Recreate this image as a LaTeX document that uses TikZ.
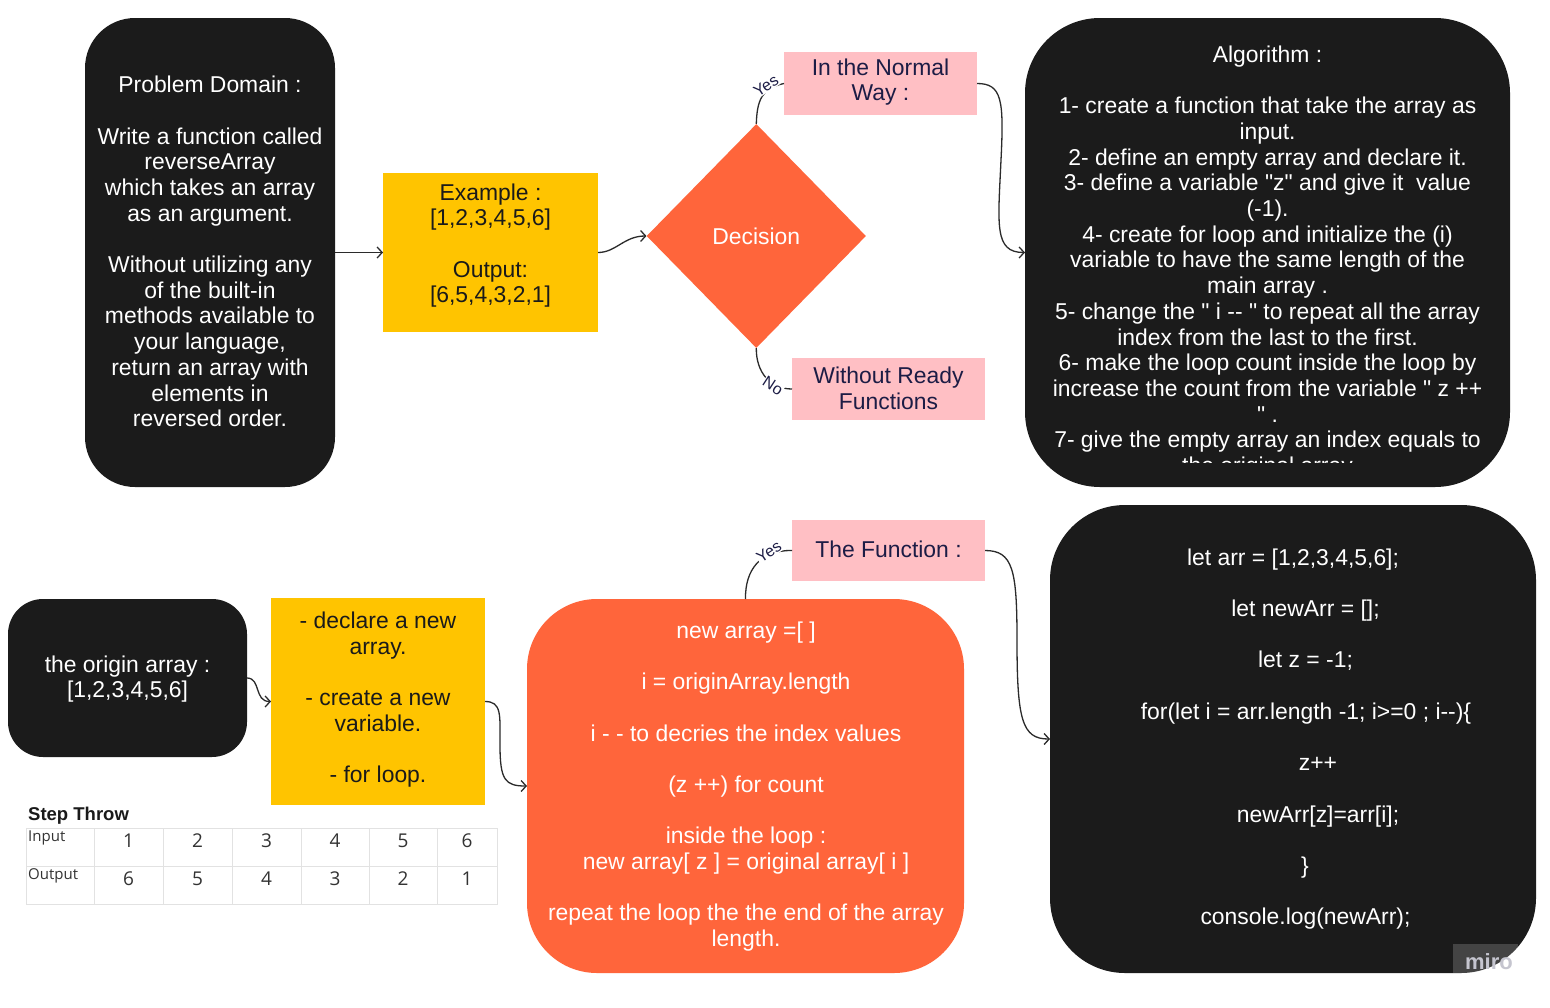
\documentclass[tikz,border=0pt]{standalone}
\usepackage{fontspec}
\setmainfont{Liberation Sans}[Ligatures=TeXOff]
\newfontfamily\tabfont{Open Sans}
\usetikzlibrary{shapes.geometric,arrows.meta}
\definecolor{boxblack}{HTML}{1B1B1B}
\definecolor{yellowc}{HTML}{FFC400}
\definecolor{orangec}{HTML}{FF653B}
\definecolor{pinkc}{HTML}{FFBFC4}
\definecolor{navyc}{HTML}{1C1C45}
\definecolor{darkt}{HTML}{1A1A1A}
\definecolor{linec}{HTML}{2B2B2B}
\definecolor{gridc}{HTML}{E2E2E2}
\definecolor{numc}{HTML}{333333}
\definecolor{miroc}{HTML}{C5C5CF}
\newcommand\msz{\fontsize{22.9pt}{25.7pt}\selectfont}
\begin{document}
\begin{tikzpicture}[x=1pt,y=-1pt,
  box/.style={draw=none,inner sep=0pt,outer sep=0pt},
  blackbox/.style={box,fill=boxblack},
  wtext/.style={text=white,align=center,font=\msz,inner sep=0pt},
  dtext/.style={text=darkt,align=center,font=\msz,inner sep=0pt},
  ntext/.style={text=navyc,align=center,font=\msz,inner sep=0pt},
  conn/.style={draw=linec,line width=1.3pt,-{Straight Barb[length=5pt,width=11pt]}},
  plainconn/.style={draw=linec,line width=1.3pt},
  lbl/.style={fill=white,inner sep=0.5pt,text=navyc,font=\fontsize{16pt}{18pt}\selectfont},
  tabline/.style={draw=gridc,line width=1pt},
  tabtext/.style={text=numc,font=\tabfont\fontsize{15pt}{17pt}\selectfont,inner sep=0pt},
  tabnum/.style={text=numc,font=\tabfont\fontsize{19pt}{21pt}\selectfont,inner sep=0pt}]
\useasboundingbox[fill=white] (0,0) rectangle (1550,1007);

% ---------- top row ----------
\node[blackbox,rounded corners=50pt,minimum width=250pt,minimum height=469pt] (prob) at (210,252.5) {};
\node[wtext] (probT) at (210,251.5) {Problem Domain :\\[25.7pt]
Write a function called\\ reverseArray\\ which takes an array\\ as an argument.\\[25.7pt]
Without utilizing any\\ of the built-in\\ methods available to\\ your language,\\ return an array with\\ elements in\\ reversed order.};

\node[box,fill=yellowc,minimum width=215pt,minimum height=159pt] (ex) at (490.5,252.5) {};
\node[dtext] (exT) at (490.5,245.5) {Example :\\ {[1,2,3,4,5,6]}\\[25.7pt] Output:\\ {[6,5,4,3,2,1]}};

\node[diamond,fill=orangec,minimum width=219.3pt,minimum height=224pt,inner sep=0pt,text=white,font=\msz] (dec) at (756.3,236) {Decision};

\node[box,fill=pinkc,minimum width=193pt,minimum height=63pt] (p1) at (880.5,83.5) {};
\node[ntext] (p1T) at (880.5,82) {In the Normal\\ Way :};

\node[box,fill=pinkc,minimum width=193pt,minimum height=62pt] (p2) at (888.5,389) {};
\node[ntext] (p2T) at (888.5,388.5) {Without Ready\\ Functions};

\node[blackbox,rounded corners=75pt,minimum width=485pt,minimum height=469pt] (alg) at (1267.5,252.5) {};
\begin{scope}
\clip (1025,18) rectangle (1510,462);
\node[wtext] (algT) at (1267.5,262) {Algorithm :\\[25.7pt]
1- create a function that take the array as\\ input.\\
2- define an empty array and declare it.\\
3- define a variable "z" and give it\ \ value\\ (-1).\\
4- create for loop and initialize the (i)\\ variable to have the same length of the\\ main array .\\
5- change the " i -{}- " to repeat all the array\\ index from the last to the first.\\
6- make the loop count inside the loop by\\ increase the count from the variable " z ++\\ " .\\
7- give the empty array an index equals to\\ the original array};
\end{scope}

% ---------- bottom row ----------
\node[blackbox,rounded corners=35pt,minimum width=239pt,minimum height=158pt] (orig) at (127.5,678) {};
\node[wtext] (origT) at (127.5,679) {the origin array :\\ {[1,2,3,4,5,6]}};

\node[box,fill=yellowc,minimum width=214pt,minimum height=207pt] (y2) at (378,701.5) {};
\node[dtext] (y2T) at (378,699.5) {- declare a new\\ array.\\[25.7pt] - create a new\\ variable.\\[25.7pt] - for loop.};

\node[box,fill=orangec,rounded corners=70pt,minimum width=437pt,minimum height=374pt] (orr) at (745.5,786) {};
\node[wtext] (orrT) at (746,786.5) {new array =[ ]\\[25.7pt]
i = originArray.length\\[25.7pt]
i - - to decries the index values\\[25.7pt]
(z ++) for count\\[25.7pt]
inside the loop :\\ new array[ z ] = original array[ i ]\\[25.7pt]
repeat the loop the the end of the array\\ length.};

\node[box,fill=pinkc,minimum width=193pt,minimum height=61pt] (p3) at (888.5,550.5) {};
\node[ntext] (p3T) at (888.5,549) {The Function :};

\node[blackbox,rounded corners=75pt,minimum width=486pt,minimum height=468pt] (code) at (1293,739) {};
\node[wtext] (codeT) at (1293,739) {let arr = [1,2,3,4,5,6];\\[25.7pt]
\hspace*{25pt}let newArr = [];\\[25.7pt]
\hspace*{25pt}let z = -1;\\[25.7pt]
\hspace*{26pt}for(let i = arr.length -1; i>=0 ; i-{}-)\{\\[25.7pt]
\hspace*{50pt}z++\\[25.7pt]
\hspace*{50pt}newArr[z]=arr[i];\\[25.7pt]
\hspace*{24pt}\}\\[25.7pt]
\hspace*{25pt}console.log(newArr);};

% ---------- connectors ----------
\draw[conn] (prob.east) -- (ex.west);
\draw[conn] (ex.east) .. controls (616,252.5) and (624,236) .. (dec.west);
\draw[conn] (p1.east) .. controls (1002,83.5) and (1004,100) .. (1001,160) .. controls (998,225) and (994,252.5) .. (alg.west);
\draw[plainconn] (dec.north) .. controls (757,100) and (762,88) .. (p1.west);
\draw[plainconn] (dec.south) .. controls (756,372) and (770,389) .. (p2.west);

\draw[conn] (orig.east) .. controls (261,678) and (254,701.5) .. (y2.west);
\draw[conn] (y2.east) .. controls (502,701.5) and (500,715) .. (500,745) .. controls (500,780) and (505,786) .. (orr.west);
\draw[plainconn] (orr.north) .. controls (745,570) and (760,550) .. (p3.west);
\draw[conn] (p3.east) .. controls (1013,550.5) and (1017,570) .. (1017,640) .. controls (1017,720) and (1022,739) .. (code.west);

% ---------- connector labels ----------
\node[lbl,rotate=33] (yes1) at (766,86) {Yes};
\node[lbl,rotate=-33] (no1) at (773,386) {No};
\node[lbl,rotate=34] (yes2) at (769,552) {Yes};

% ---------- table ----------
\node[anchor=west,inner sep=0pt,text=darkt,font=\bfseries\fontsize{18.5pt}{20pt}\selectfont] (stepT) at (28,816) {Step Throw};
\draw[tabline] (26,828) rectangle (497,904);
\draw[tabline] (26,866) -- (497,866);
\foreach \cx in {94,163,232,301,369,437}{\draw[tabline] (\cx,828) -- (\cx,904);}
\node[tabtext,anchor=west] (inT) at (28,838) {Input};
\node[tabtext,anchor=west] (outT) at (28,876) {Output};
\foreach \v [count=\i] in {1,2,3,4,5,6}{
  \pgfmathsetmacro\cxx{{128.5,197.5,266.5,335,403,467}[\i-1]}
  \node[tabnum] (in\i) at (\cxx,841) {\v};}
\foreach \v [count=\i] in {6,5,4,3,2,1}{
  \pgfmathsetmacro\cxx{{128.5,197.5,266.5,335,403,467}[\i-1]}
  \node[tabnum] (out\i) at (\cxx,879) {\v};}

% ---------- watermark ----------
\begin{scope}
\clip (1453,944) rectangle (1518,973);
\fill[white,opacity=0.18] (1453,944) rectangle (1518,973);
\node[text=miroc,font=\bfseries\fontsize{22pt}{24pt}\selectfont,inner sep=0pt] (miro) at (1489,962) {miro};
\end{scope}
\end{tikzpicture}
\end{document}
